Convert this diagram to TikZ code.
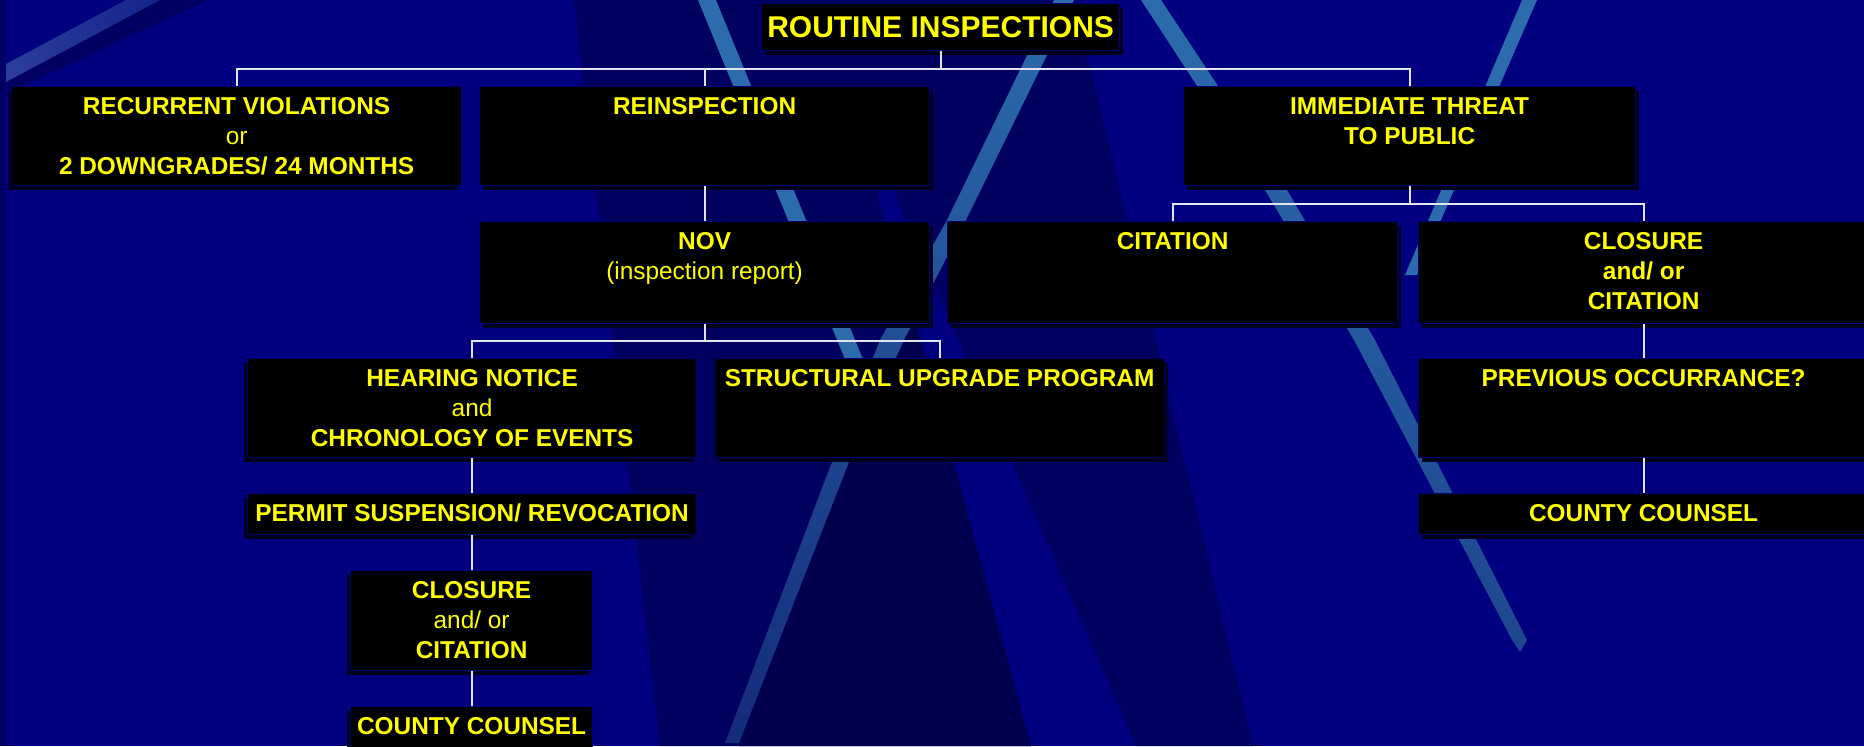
\documentclass[tikz,border=0pt]{standalone}
\usepackage{fontspec}
\setmainfont{Liberation Sans}
\usetikzlibrary{shadows}
\newdimen\pxu \pxu=0.5pt
\definecolor{bgnavy}{RGB}{0,0,128}
\definecolor{darknavy}{RGB}{0,0,96}
\definecolor{darkest}{RGB}{0,0,78}
\definecolor{streak}{RGB}{44,108,172}
\definecolor{streakdim}{RGB}{20,44,122}
\definecolor{bandleft}{RGB}{44,62,156}
\definecolor{bandright}{RGB}{22,34,140}
\definecolor{shadowc}{RGB}{0,0,28}
\definecolor{boxedge}{RGB}{0,0,112}
\definecolor{txtyellow}{RGB}{255,255,0}
\definecolor{connc}{RGB}{228,228,238}
\newcommand{\bx}[3]{\begin{minipage}[c][#2\pxu][t]{#1\pxu}\centering\rule{0pt}{14pt}#3\end{minipage}}
\begin{document}
\begin{tikzpicture}[x=0.5pt,y=-0.5pt,
  box/.style={fill=black, draw=boxedge, line width=0.6pt, inner sep=0pt, anchor=north west, text=txtyellow, font=\fontsize{12.2}{15}\selectfont},
  rshadow/.style={drop shadow={shadow xshift=1.8pt, shadow yshift=-2pt, fill=shadowc, opacity=1}},
  lshadow/.style={drop shadow={shadow xshift=-1.8pt, shadow yshift=-2pt, fill=shadowc, opacity=1}},
  conn/.style={draw=connc, line width=1pt}]
\useasboundingbox (0,0) rectangle (1864,746);
\clip (0,0) rectangle (1864,746);
% background
\fill[bgnavy] (0,0) rectangle (1864,746);
\fill[darknavy] (574,0) -- (824,0) -- (1031,746) -- (660,746) -- cycle;
\fill[darknavy] (810,0) -- (1074,0) -- (1253,746) -- (1136,746) -- cycle;
\fill[darkest] (914,315) -- (1031,746) -- (739,746) -- (849,462) -- (904,340) -- cycle;
\fill[streak] (698,0) -- (716,0) -- (896,440) -- (878,440) -- cycle;
\shade[top color=streak, bottom color=streakdim] (1054,0) -- (1074,0) -- (966,220) -- (904,340) -- (849,462) -- (739,743) -- (725,743) -- (832,462) -- (880,340) -- (947,220) -- cycle;
\shade[top color=streak, bottom color=streakdim!60!streak] (1141,0) -- (1161,0) -- (1287,190) -- (1375,340) -- (1527,640) -- (1520,652) -- (1512,640) -- (1354,340) -- (1265,190) -- cycle;
\fill[streak] (1522,0) -- (1537,0) -- (1417,275) -- (1405,275) -- cycle;
\fill[darknavy] (6,82) -- (160,0) -- (207,0) -- (14,90) -- (6,90) -- cycle;
\shade[left color=bandleft, right color=bandright] (6,64) -- (126,0) -- (160,0) -- (6,82) -- cycle;
\fill[darknavy] (0,0) rectangle (5,746);
% boxes
\node[box, rshadow, font=\bfseries\fontsize{15}{18}\selectfont] (title) at (761,3)
  {\begin{minipage}[c][47\pxu][c]{358\pxu}\centering ROUTINE INSPECTIONS\end{minipage}};
\node[box, lshadow] (recur) at (11,86) {\bx{450}{99}{\textbf{RECURRENT VIOLATIONS}\\ or\\ \textbf{2 DOWNGRADES/ 24 MONTHS}}};
\node[box, rshadow] (reinsp) at (479,86) {\bx{450}{99}{\textbf{REINSPECTION}}};
\node[box, rshadow] (threat) at (1183,86) {\bx{452}{99}{\textbf{IMMEDIATE THREAT}\\ \textbf{TO PUBLIC}}};
\node[box, rshadow] (nov) at (479,221) {\bx{450}{102}{\textbf{NOV}\\ (inspection report)}};
\node[box, rshadow] (citation) at (947,221) {\bx{450}{102}{\textbf{CITATION}}};
\node[box, rshadow] (closure1) at (1418,221) {\bx{450}{102}{\textbf{CLOSURE}\\ \textbf{and/ or}\\ \textbf{CITATION}}};
\node[box, lshadow] (hearing) at (247,358) {\bx{449}{99}{\textbf{HEARING NOTICE}\\ and\\ \textbf{CHRONOLOGY OF EVENTS}}};
\node[box, rshadow] (struct) at (714,358) {\bx{450}{99}{\textbf{STRUCTURAL UPGRADE PROGRAM}}};
\node[box, rshadow] (prev) at (1418,358) {\bx{450}{99}{\textbf{PREVIOUS OCCURRANCE?}}};
\node[box, lshadow] (permit) at (247,493) {\bx{449}{41}{\textbf{PERMIT SUSPENSION/ REVOCATION}}};
\node[box, rshadow] (county1) at (1418,493) {\bx{450}{41}{\textbf{COUNTY COUNSEL}}};
\node[box, lshadow] (closure2) at (350,570) {\bx{242}{100}{\textbf{CLOSURE}\\ and/ or\\ \textbf{CITATION}}};
\node[box, lshadow] (county2) at (350,706) {\bx{242}{41}{\textbf{COUNTY COUNSEL}}};
% connectors
\coordinate (y1) at (0,69);
\coordinate (y2) at (0,204);
\coordinate (y3) at (0,341);
\coordinate (j1) at (title.south |- y1);
\coordinate (j2) at (threat.south |- y2);
\coordinate (j3) at (nov.south |- y3);
\draw[conn] (title.south) -- (j1);
\draw[conn] (recur.north) |- (j1) -| (threat.north);
\draw[conn] (reinsp.north) -- (reinsp.north |- j1);
\draw[conn] (reinsp.south) -- (nov.north);
\draw[conn] (threat.south) -- (j2);
\draw[conn] (citation.north) |- (j2) -| (closure1.north);
\draw[conn] (nov.south) -- (j3);
\draw[conn] (hearing.north) |- (j3) -| (struct.north);
\draw[conn] (hearing.south) -- (hearing.south |- permit.north);
\draw[conn] (permit.south) -- (permit.south |- closure2.north);
\draw[conn] (closure2.south) -- (county2.north);
\draw[conn] (closure1.south) -- (prev.north);
\draw[conn] (prev.south) -- (county1.north);
\end{tikzpicture}
\end{document}
